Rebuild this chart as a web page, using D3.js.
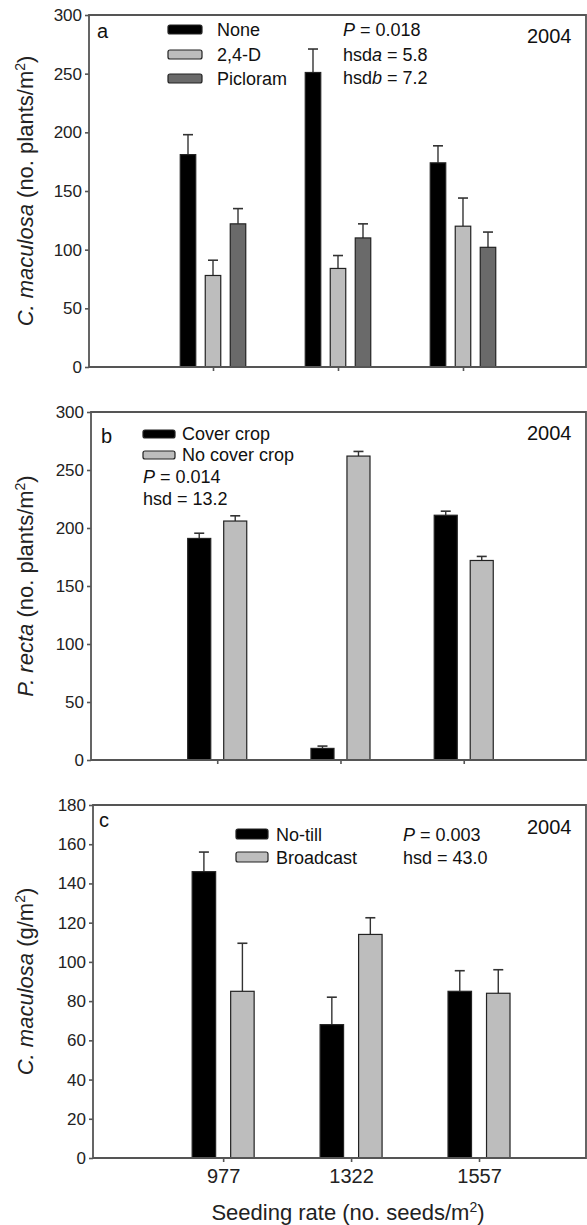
<!DOCTYPE html>
<html>
<head>
<meta charset="utf-8">
<script src="https://cdn.jsdelivr.net/npm/d3@7"></script>
<style>
	body { margin: 0; background: #fff; }
	svg { display: block; font-family: 'Liberation Sans', Arial, sans-serif; }
</style>
</head>
<body>
<svg id="chart" width="587" height="1225"></svg>
<script>
// seeding rates (no. seeds/m2)
var categories = ['977', '1322', '1557'];

// panel a: C. maculosa density by herbicide
var aSeries = ['None', '2,4-D', 'Picloram'];
var aNone = [181, 251, 174];
var aNoneErr = [17, 20, 14.5];
var aTwoFourD = [78, 84, 120];
var aTwoFourDErr = [13, 11, 24];
var aPicloram = [122, 110, 102];
var aPicloramErr = [13, 12, 13];
var aTicks = [0, 50, 100, 150, 200, 250, 300];

// panel b: P. recta density by cover crop
var bSeries = ['Cover crop', 'No cover crop'];
var bCover = [191, 10, 211];
var bCoverErr = [4.5, 2, 3.5];
var bNoCover = [206, 262, 172];
var bNoCoverErr = [4.5, 4, 3.5];
var bTicks = [0, 50, 100, 150, 200, 250, 300];

// panel c: C. maculosa biomass by seeding method
var cSeries = ['No-till', 'Broadcast'];
var cNoTill = [146, 68, 85];
var cNoTillErr = [10, 14, 10.5];
var cBroadcast = [85, 114, 84];
var cBroadcastErr = [24.5, 8.5, 12];
var cTicks = [0, 20, 40, 60, 80, 100, 120, 140, 160, 180];

var BLACK = '#000000', LIGHT = '#bdbdbd', DARK = '#6a6a6a';
var AXIS = '#555555';

var svg = d3.select('#chart');

var drawPanel = function (p) {
	var g = svg.append('g');
	var w = p.right - p.left;

	var y = d3.scaleLinear()
		.domain([0, p.yMax])
		.range([p.bottom, p.top]);

	var x = d3.scalePoint()
		.domain(categories)
		.range([p.left + p.f0 * w, p.left + p.f1 * w]);

	var x1 = d3.scaleBand()
		.domain(p.series)
		.range([-p.half, p.half])
		.paddingInner(p.pad)
		.paddingOuter(p.pad / 2);

	// bars + error bars
	p.series.forEach(function (s, si) {
		var rows = categories.map(function (c, i) {
			return { cat: c, v: p.values[si][i], e: p.errors[si][i] };
		});
		var sg = g.append('g');
		sg.selectAll('line.err')
			.data(rows)
			.enter().append('line')
			.attr('x1', function (d) { return x(d.cat) + x1(s) + x1.bandwidth() / 2; })
			.attr('x2', function (d) { return x(d.cat) + x1(s) + x1.bandwidth() / 2; })
			.attr('y1', function (d) { return y(d.v); })
			.attr('y2', function (d) { return y(d.v + d.e); })
			.attr('stroke', '#333')
			.attr('stroke-width', 1.4);
		sg.selectAll('line.cap')
			.data(rows)
			.enter().append('line')
			.attr('x1', function (d) { return x(d.cat) + x1(s) + x1.bandwidth() / 2 - 5; })
			.attr('x2', function (d) { return x(d.cat) + x1(s) + x1.bandwidth() / 2 + 5; })
			.attr('y1', function (d) { return y(d.v + d.e); })
			.attr('y2', function (d) { return y(d.v + d.e); })
			.attr('stroke', '#333')
			.attr('stroke-width', 1.6);
		sg.selectAll('rect')
			.data(rows)
			.enter().append('rect')
			.attr('x', function (d) { return x(d.cat) + x1(s); })
			.attr('y', function (d) { return y(d.v); })
			.attr('width', x1.bandwidth())
			.attr('height', function (d) { return p.bottom - y(d.v); })
			.attr('fill', p.colors[si])
			.attr('stroke', '#222')
			.attr('stroke-width', 1.2);
	});

	// y axis
	var ya = g.append('g')
		.attr('transform', 'translate(' + p.left + ',0)')
		.call(d3.axisLeft(y).tickValues(p.ticks).tickSize(4).tickPadding(3));
	ya.select('.domain').remove();
	ya.selectAll('line').attr('stroke', AXIS).attr('stroke-width', 1.6);
	ya.selectAll('text')
		.attr('font-size', 17)
		.attr('fill', '#222')
		.attr('font-family', "'Liberation Sans', Arial, sans-serif");

	// x axis
	var xa = g.append('g')
		.attr('transform', 'translate(0,' + p.bottom + ')')
		.call(d3.axisBottom(x).tickSize(4).tickPadding(7));
	xa.select('.domain').remove();
	xa.selectAll('line').attr('stroke', AXIS).attr('stroke-width', 1.6);
	xa.selectAll('text')
		.attr('font-size', 20)
		.attr('fill', '#222')
		.attr('font-family', "'Liberation Sans', Arial, sans-serif")
		.style('display', p.xLabels ? null : 'none');

	// frame
	g.append('path')
		.attr('d', 'M' + p.left + ',' + p.bottom + 'V' + p.top + 'H' + p.right + 'V' + p.bottom + 'Z')
		.attr('fill', 'none')
		.attr('stroke', AXIS)
		.attr('stroke-width', 1.8);

	// y title
	var t = g.append('text')
		.attr('transform', 'translate(33,' + ((p.top + p.bottom) / 2) + ') rotate(-90)')
		.attr('text-anchor', 'middle')
		.attr('font-size', 22)
		.attr('fill', '#222');
	t.append('tspan').attr('font-style', 'italic').text(p.species);
	t.append('tspan').text(' (' + p.unit);
	t.append('tspan').attr('font-size', 14).attr('dy', -8).text('2');
	t.append('tspan').attr('dy', 8).text(')');

	// panel letter + year
	g.append('text')
		.attr('x', p.letterPos[0]).attr('y', p.letterPos[1])
		.attr('font-size', 20).attr('fill', '#111')
		.text(p.letter);
	g.append('text')
		.attr('x', 527).attr('y', p.yearY)
		.attr('font-size', 20).attr('fill', '#111')
		.text('2004');

	// legend
	var lg = g.append('g');
	lg.selectAll('rect')
		.data(p.series)
		.enter().append('rect')
		.attr('x', p.legend.x)
		.attr('y', function (d, i) { return p.legend.y[i] - p.legend.h - 2; })
		.attr('width', p.legend.w)
		.attr('height', p.legend.h)
		.attr('rx', 2)
		.attr('fill', function (d, i) { return p.colors[i]; })
		.attr('stroke', '#222')
		.attr('stroke-width', 1.2);
	lg.selectAll('text')
		.data(p.series)
		.enter().append('text')
		.attr('x', p.legend.x + p.legend.w + p.legend.gap)
		.attr('y', function (d, i) { return p.legend.y[i]; })
		.attr('font-size', 18)
		.attr('fill', '#111')
		.text(function (d) { return d; });

	// stats
	p.stats.forEach(function (parts, i) {
		var st = g.append('text')
			.attr('x', p.statX)
			.attr('y', p.statY[i])
			.attr('font-size', 18)
			.attr('fill', '#111');
		parts.forEach(function (pt) {
			st.append('tspan')
				.attr('font-style', pt[1] ? 'italic' : null)
				.text(pt[0]);
		});
	});
};

drawPanel({
	left: 89, right: 586, top: 15, bottom: 367, yMax: 300, ticks: aTicks,
	f0: 0.2495, f1: 0.7525, half: 37.5, pad: 0.38,
	series: aSeries,
	values: [aNone, aTwoFourD, aPicloram],
	errors: [aNoneErr, aTwoFourDErr, aPicloramErr],
	colors: [BLACK, LIGHT, DARK],
	species: 'C. maculosa', unit: 'no. plants/m',
	letter: 'a', letterPos: [97, 38], yearY: 43,
	legend: { x: 168, w: 34, h: 9, gap: 15, y: [36, 61, 85] },
	statX: 343, statY: [36, 61, 84],
	stats: [[['P', true], [' = 0.018']], [['hsd'], ['a', true], [' = 5.8']], [['hsd'], ['b', true], [' = 7.2']]],
	xLabels: false
});

drawPanel({
	left: 91, right: 586, top: 412, bottom: 760, yMax: 300, ticks: bTicks,
	f0: 0.255, f1: 0.753, half: 36, pad: 0.36,
	series: bSeries,
	values: [bCover, bNoCover],
	errors: [bCoverErr, bNoCoverErr],
	colors: [BLACK, LIGHT],
	species: 'P. recta', unit: 'no. plants/m',
	letter: 'b', letterPos: [101, 443], yearY: 440,
	legend: { x: 143, w: 32, h: 8, gap: 7, y: [440, 461] },
	statX: 143, statY: [483, 505],
	stats: [[['P', true], [' = 0.014']], [['hsd = 13.2']]],
	xLabels: false
});

drawPanel({
	left: 93, right: 586, top: 805, bottom: 1158, yMax: 180, ticks: cTicks,
	f0: 0.264, f1: 0.783, half: 38.5, pad: 0.39,
	series: cSeries,
	values: [cNoTill, cBroadcast],
	errors: [cNoTillErr, cBroadcastErr],
	colors: [BLACK, LIGHT],
	species: 'C. maculosa', unit: 'g/m',
	letter: 'c', letterPos: [99, 827], yearY: 834,
	legend: { x: 236, w: 32, h: 10, gap: 8, y: [841, 864] },
	statX: 403, statY: [841, 864],
	stats: [[['P', true], [' = 0.003']], [['hsd = 43.0']]],
	xLabels: true
});

// x title
var xt = svg.append('text')
	.attr('x', 348)
	.attr('y', 1220)
	.attr('text-anchor', 'middle')
	.attr('font-size', 22)
	.attr('fill', '#222');
xt.append('tspan').text('Seeding rate (no. seeds/m');
xt.append('tspan').attr('font-size', 14).attr('dy', -8).text('2');
xt.append('tspan').attr('dy', 8).text(')');
</script>
</body>
</html>
